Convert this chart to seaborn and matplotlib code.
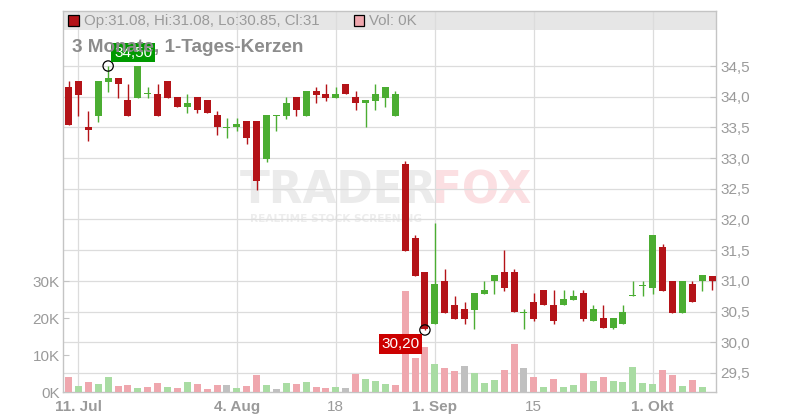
import numpy as np
import pandas as pd
import matplotlib
matplotlib.use("Agg")
import matplotlib.pyplot as plt
from matplotlib.patches import Rectangle
from matplotlib.ticker import FixedLocator, FuncFormatter
import seaborn as sns

# ---------------- data ----------------
start_date = "2025-07-10"
opens = [34.16, 34.26, 33.51, 33.69, 34.24, 34.30, 33.95, 33.98, 34.04, 34.04,
         34.26, 34.00, 33.84, 34.00, 33.95, 33.70, 33.49, 33.50, 33.60, 33.60,
         32.99, 33.69, 33.69, 34.00, 33.69, 34.09, 34.04, 33.98, 34.21, 34.00,
         33.89, 33.93, 33.98, 33.69, 32.90, 31.70, 31.15, 30.29, 31.00, 30.61,
         30.54, 30.53, 30.79, 30.99, 31.15, 31.15, 30.48, 30.66, 30.85, 30.61,
         30.60, 30.69, 30.80, 30.34, 30.40, 30.24, 30.29, 30.75, 30.92, 30.89,
         31.55, 31.00, 30.48, 30.95, 30.99, 31.08]
highs = [34.26, 34.26, 33.76, 34.26, 34.50, 34.30, 34.21, 34.50, 34.16, 34.21,
         34.26, 34.00, 34.04, 34.00, 33.95, 33.76, 33.65, 33.65, 33.60, 33.60,
         33.70, 33.70, 34.00, 34.00, 34.09, 34.16, 34.21, 34.16, 34.21, 34.09,
         33.95, 34.21, 34.16, 34.09, 32.95, 31.75, 31.15, 31.94, 31.19, 30.75,
         30.66, 30.80, 31.00, 31.10, 31.50, 31.19, 30.54, 30.80, 30.85, 30.85,
         30.85, 30.85, 30.85, 30.61, 30.61, 30.40, 30.61, 31.00, 31.00, 31.75,
         31.60, 31.00, 31.00, 31.00, 31.10, 31.08]
lows = [33.54, 33.69, 33.28, 33.59, 34.08, 33.98, 33.69, 33.98, 33.98, 33.69,
        33.98, 33.84, 33.74, 33.74, 33.74, 33.38, 33.33, 33.44, 33.23, 32.48,
        32.94, 33.44, 33.64, 33.69, 33.69, 33.89, 33.93, 33.98, 34.04, 33.79,
        33.50, 33.79, 33.84, 33.69, 31.49, 31.08, 30.20, 30.29, 30.48, 30.38,
        30.29, 30.21, 30.79, 30.79, 30.84, 30.49, 30.21, 30.34, 30.60, 30.29,
        30.60, 30.69, 30.34, 30.34, 30.24, 30.21, 30.29, 30.75, 30.75, 30.79,
        30.84, 30.48, 30.48, 30.65, 30.84, 30.85]
closes = [33.54, 34.03, 33.45, 34.26, 34.30, 34.20, 33.69, 34.50, 34.05, 33.69,
          33.98, 33.84, 33.90, 33.79, 33.74, 33.50, 33.50, 33.56, 33.33, 32.63,
          33.70, 33.70, 33.90, 33.79, 34.09, 34.03, 33.98, 34.04, 34.04, 33.89,
          33.95, 34.04, 34.16, 34.04, 31.49, 31.08, 30.21, 30.95, 30.48, 30.38,
          30.38, 30.80, 30.85, 31.10, 30.89, 30.49, 30.49, 30.38, 30.60, 30.34,
          30.71, 30.75, 30.38, 30.54, 30.24, 30.40, 30.50, 30.76, 30.93, 31.75,
          30.84, 30.48, 31.00, 30.65, 31.10, 31.00]
volumes = [4050, 1600, 2700, 2200, 4050, 1600, 1900, 1100, 1350, 2400,
           1350, 1100, 2700, 2200, 800, 1900, 1900, 1100, 1600, 4600,
           1900, 800, 2400, 2200, 2700, 1350, 1100, 1350, 1100, 4900,
           3500, 3000, 2200, 1900, 27300, 9200, 12200, 7600, 6500, 5700,
           7000, 5100, 2400, 3200, 5900, 13000, 6500, 4050, 1350, 3500,
           1350, 1900, 5100, 3000, 4050, 3000, 2700, 6800, 2400, 2200,
           5900, 4600, 1600, 3200, 1350, 0]

tick_dates = ["2025-07-11", "2025-08-04", "2025-08-18", "2025-09-01", "2025-09-15", "2025-10-01"]
tick_labels = ["11. Jul", "4. Aug", "18", "1. Sep", "15", "1. Okt"]
tick_bold = [True, True, False, True, False, True]
price_ticks = [29.5, 30.0, 30.5, 31.0, 31.5, 32.0, 32.5, 33.0, 33.5, 34.0, 34.5]
volume_ticks = [0, 10000, 20000, 30000]

title_text = "3 Monate, 1-Tages-Kerzen"
legend_ohlc = "Op:31.08, Hi:31.08, Lo:30.85, Cl:31"
legend_vol = "Vol: 0K"
max_label = "34,50"
min_label = "30,20"

# ---------------- style ----------------
sns.set_style("white")
plt.rcParams["font.family"] = ["Liberation Sans", "DejaVu Sans"]

RED = "#b41318"
GREEN = "#4bad32"
VOL_COLORS = {"down": "#efa7ae", "up": "#a9dca3", "flat": "#c0c0c0"}
TXT = "#9a9a9a"
GRID = "#dcdcdc"
SPINE = "#c4c4c4"

dates = pd.bdate_range(start_date, periods=len(opens))
n = len(opens)
idx = np.arange(n)
df = pd.DataFrame({"idx": idx, "date": dates, "open": opens, "high": highs,
                   "low": lows, "close": closes, "vol": volumes})
dirs = []
for i in range(n):
    ref = df["open"].iloc[0] if i == 0 else df["close"].iloc[i - 1]
    c = df["close"].iloc[i]
    if abs(c - ref) < 1e-9:
        dirs.append("flat")
    elif c > ref:
        dirs.append("up")
    else:
        dirs.append("down")
df["dir"] = dirs

W, H = 800, 420
fig = plt.figure(figsize=(W / 100, H / 100), dpi=100)
L, R, T, B = 63, 716, 11, 392
ax = fig.add_axes([L / W, 1 - B / H, (R - L) / W, (B - T) / H])
axv = ax.twinx()

# price axis (right)
ax.set_ylim(29.19, 35.396)
ax.set_xlim(-0.56, 65.4)
ax.set_axisbelow(True)
ax.yaxis.set_major_locator(FixedLocator(price_ticks))
ax.yaxis.set_major_formatter(FuncFormatter(lambda v, p: f"{v:.1f}".replace(".", ",")))
ax.yaxis.set_ticks_position("right")
ax.yaxis.set_label_position("right")
ax.tick_params(axis="y", direction="in", length=4, color=SPINE, labelcolor=TXT,
               labelsize=11, pad=3, right=True, left=False, labelright=True, labelleft=False)
ax.grid(True, axis="both", color=GRID, lw=0.9)

tick_idx = [int(np.where(dates == pd.Timestamp(d))[0][0]) for d in tick_dates]
ax.set_xticks(tick_idx)
ax.set_xticklabels(tick_labels)
for lab, b in zip(ax.get_xticklabels(), tick_bold):
    lab.set_fontweight("bold" if b else "normal")
ax.tick_params(axis="x", direction="out", length=3, color=SPINE, labelcolor=TXT,
               labelsize=11, pad=3)
for s in ax.spines.values():
    s.set_color(SPINE)
    s.set_linewidth(1.0)
    s.set_visible(True)

# legend band
ax.add_patch(Rectangle((0, 1 - 19 / (B - T)), 1, 19 / (B - T), transform=ax.transAxes,
                       facecolor="#e6e6e6", edgecolor="none", zorder=0.3))

# watermark
ax.text(240 / W, 1 - 191 / H, "TRADER", transform=fig.transFigure, family="DejaVu Sans",
        fontweight="bold", fontsize=31.5, color="#ebebeb", ha="left", va="center", zorder=0.35)
ax.text(432 / W, 1 - 191 / H, "FOX", transform=fig.transFigure, family="DejaVu Sans",
        fontweight="bold", fontsize=31.5, color="#fbdfe2", ha="left", va="center", zorder=0.35)
ax.text(250 / W, 1 - 219 / H, "REALTIME STOCK SCREENING", transform=fig.transFigure,
        family="DejaVu Sans", fontweight="bold", fontsize=7.6, color="#ededed",
        ha="left", va="center", zorder=0.35)

# candles
up = df["close"] >= df["open"]
colors = np.where(up, GREEN, RED)
ax.vlines(df["idx"], df["low"], df["high"], colors=colors, lw=1.0, zorder=2)
body_bottom = np.minimum(df["open"], df["close"])
body_h = np.maximum(np.abs(df["close"] - df["open"]), 0.018)
ax.bar(df["idx"], body_h, bottom=body_bottom, width=0.71, color=colors, zorder=3,
       linewidth=0)

# volume (left axis)
sns.barplot(data=df, x="idx", y="vol", hue="dir", palette=VOL_COLORS, dodge=False,
            native_scale=True, width=0.71, saturation=1, errorbar=None, legend=False,
            linewidth=0, ax=axv)
axv.set_ylim(0, 103000)
axv.set_xlim(-0.56, 65.4)
axv.set_ylabel("")
axv.set_xlabel("")
axv.yaxis.set_major_locator(FixedLocator(volume_ticks))
axv.yaxis.set_major_formatter(FuncFormatter(lambda v, p: f"{v / 1000:.0f}K"))
axv.yaxis.set_ticks_position("left")
axv.yaxis.set_label_position("left")
axv.tick_params(axis="y", direction="in", length=4, color=SPINE, labelcolor=TXT,
                labelsize=11, pad=2.5, left=True, right=False, labelleft=True, labelright=False)
for s in axv.spines.values():
    s.set_visible(False)

# max / min markers
imax = int(df["high"].idxmax())
imin = int(df["low"].idxmin())
axv.scatter([imax], [df["high"].iloc[imax]], s=55, facecolors="none", edgecolors="black",
            linewidths=0.9, transform=ax.transData, zorder=6)
axv.scatter([imin], [df["low"].iloc[imin]], s=55, facecolors="none", edgecolors="black",
            linewidths=0.9, transform=ax.transData, zorder=6)
axv.annotate(max_label, xy=(imax, df["high"].iloc[imax]), xycoords=ax.transData,
             xytext=(25, 13.5), textcoords="offset pixels", ha="center", va="center",
             color="white", fontsize=11, zorder=7,
             bbox=dict(boxstyle="square,pad=0.18", fc="#009a00", ec="none"))
axv.annotate(min_label, xy=(imin, df["low"].iloc[imin]), xycoords=ax.transData,
             xytext=(-24.5, -14), textcoords="offset pixels", ha="center", va="center",
             color="white", fontsize=11, zorder=7,
             bbox=dict(boxstyle="square,pad=0.18", fc="#cc0000", ec="none"))

# legend band contents
fig.add_artist(Rectangle((68 / W, 1 - 26 / H), 10.5 / W, 10.5 / H, transform=fig.transFigure,
                         facecolor=RED, edgecolor="black", lw=0.9))
fig.text(84 / W, 1 - 21 / H, legend_ohlc, color=TXT, fontsize=10.8, ha="left", va="center")
fig.add_artist(Rectangle((353.5 / W, 1 - 26 / H), 10.5 / W, 10.5 / H, transform=fig.transFigure,
                         facecolor=VOL_COLORS["down"], edgecolor="black", lw=0.9))
fig.text(369 / W, 1 - 21 / H, legend_vol, color=TXT, fontsize=10.8, ha="left", va="center")

# title (drawn over the max label, as in the reference)
fig.text(72 / W, 1 - 47 / H, title_text, color="#8c8c8c", fontsize=13.6, fontweight="bold",
         ha="left", va="center")

fig.savefig("out.png", dpi=100)
